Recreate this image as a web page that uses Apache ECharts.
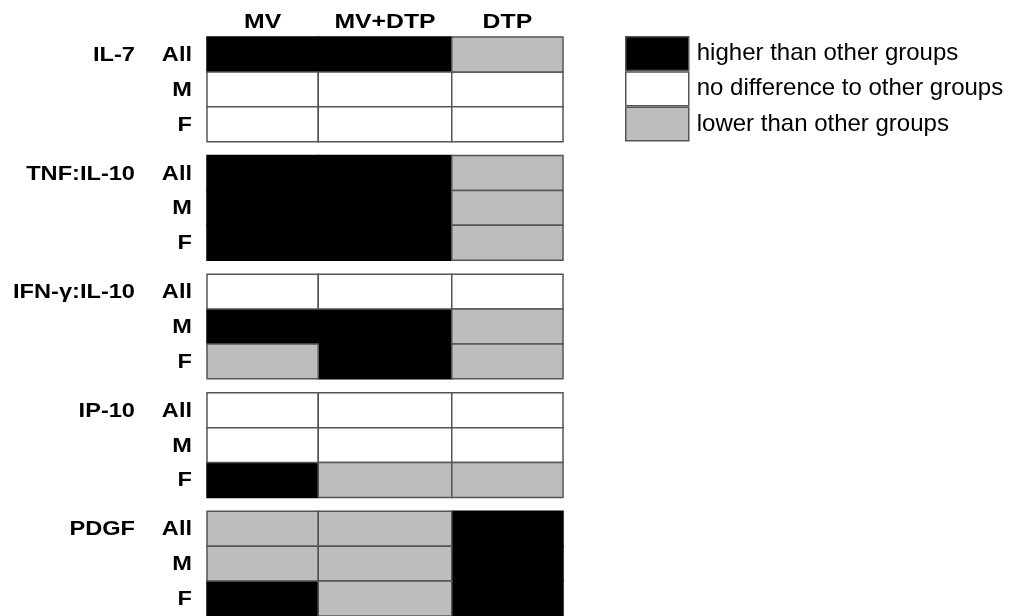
<!DOCTYPE html>
<html>
<head>
<meta charset="utf-8">
<script src="https://cdn.jsdelivr.net/npm/echarts@6/dist/echarts.min.js"></script>
<style>
html,body{margin:0;padding:0;background:#fff;}
#chart{width:1013px;height:616px;}
</style>
</head>
<body>
<div id="chart"></div>
<script>
// ---- data ----
const columns = ['MV', 'MV+DTP', 'DTP'];
const markers = ['IL-7', 'TNF:IL-10', 'IFN-γ:IL-10', 'IP-10', 'PDGF'];
const subgroups = ['All', 'M', 'F'];
const statusNames = ['higher than other groups', 'no difference to other groups', 'lower than other groups'];
const statusCodes = ['H', 'N', 'L'];
// rows: All, M, F ; columns: MV, MV+DTP, DTP
const il7      = [['H','H','L'], ['N','N','N'], ['N','N','N']];
const tnfIl10  = [['H','H','L'], ['H','H','L'], ['H','H','L']];
const ifnIl10  = [['N','N','N'], ['H','H','L'], ['L','H','L']];
const ip10     = [['N','N','N'], ['N','N','N'], ['H','L','L']];
const pdgf     = [['L','L','H'], ['L','L','H'], ['H','L','H']];
const blocks = [il7, tnfIl10, ifnIl10, ip10, pdgf];

// ---- layout / style ----
const colSpan = [5, 6, 5];       // relative column widths
const blockGap = 0.4;            // gap between blocks, in row units
const colStart = colSpan.map((s, i) => colSpan.slice(0, i).reduce((a, b) => a + b, 0));
const totalX = colSpan.reduce((a, b) => a + b, 0);
const blockStep = subgroups.length + blockGap;
const totalY = markers.length * subgroups.length + (markers.length - 1) * blockGap;
const fills = { H: '#000000', N: '#ffffff', L: '#bdbdbd' };
const FONT = 'Liberation Sans, Arial, Helvetica, sans-serif';
const STRETCH = 1.18;            // horizontal stretch of the bold labels

function rowTop(b, r) { return b * blockStep + r; }

function cellRender(code) {
  return function (params, api) {
    const c = api.value(0);
    const y0 = api.value(1);
    const p0 = api.coord([colStart[c], y0]);
    const p1 = api.coord([colStart[c] + colSpan[c], y0 + 1]);
    return {
      type: 'rect',
      shape: { x: p0[0], y: p0[1], width: p1[0] - p0[0], height: p1[1] - p0[1] },
      style: { fill: fills[code], stroke: code === 'H' ? '#000' : '#555', lineWidth: 1.5 }
    };
  };
}

const cellSeries = statusCodes.map((code, si) => {
  const data = [];
  blocks.forEach((blk, b) => blk.forEach((row, r) => row.forEach((v, c) => {
    if (v === code) data.push([c, rowTop(b, r)]);
  })));
  return {
    type: 'custom', name: statusNames[si], data: data, clip: false,
    itemStyle: { color: fills[code] },
    renderItem: cellRender(code), silent: true, z: 2 + si
  };
});

function label(text, x, y, align, size) {
  return {
    type: 'text', x: x, y: y, scaleX: STRETCH,
    style: { text: text, x: 0, y: 0, align: align, verticalAlign: 'middle',
             font: 'bold ' + size + 'px ' + FONT, fill: '#000' }
  };
}

// row labels (marker + subgroup)
const labelData = [];
markers.forEach((m, b) => subgroups.forEach((s, r) => labelData.push([0, rowTop(b, r) + 0.5, b, r])));
const labelSeries = {
  type: 'custom', data: labelData, clip: false, silent: true, z: 10,
  renderItem: function (params, api) {
    const b = api.value(2), r = api.value(3);
    const p = api.coord([0, api.value(1)]);
    const children = [label(subgroups[r], p[0] - 15, p[1] + 1, 'right', 20)];
    if (r === 0) children.push(label(markers[b], p[0] - 72, p[1] + 1, 'right', 20));
    return { type: 'group', children: children };
  }
};

// column headers
const headerSeries = {
  type: 'custom', data: columns.map((c, i) => [colStart[i] + colSpan[i] / 2, 0, i]),
  clip: false, silent: true, z: 10,
  renderItem: function (params, api) {
    const p = api.coord([api.value(0), 0]);
    return label(columns[api.value(2)], p[0], p[1] - 15, 'center', 21);
  }
};

const chart = echarts.init(document.getElementById('chart'));
chart.setOption({
  animation: false,
  backgroundColor: '#fff',
  grid: { left: 207, top: 37, width: 356, height: 581 },
  xAxis: { type: 'value', min: 0, max: totalX, show: false },
  yAxis: { type: 'value', min: 0, max: totalY, inverse: true, show: false },
  legend: {
    orient: 'vertical', left: 625, top: 36, padding: 0,
    itemWidth: 63, itemHeight: 33.7, itemGap: 0, icon: 'rect', selectedMode: false,
    textStyle: { fontSize: 24, fontFamily: FONT, color: '#000', padding: [0, 0, 0, 3] },
    data: statusNames.map((n, i) => ({
      name: n,
      itemStyle: { color: fills[statusCodes[i]], borderColor: '#555', borderWidth: 1.5 }
    }))
  },
  series: cellSeries.concat([labelSeries, headerSeries])
});
</script>
</body>
</html>
